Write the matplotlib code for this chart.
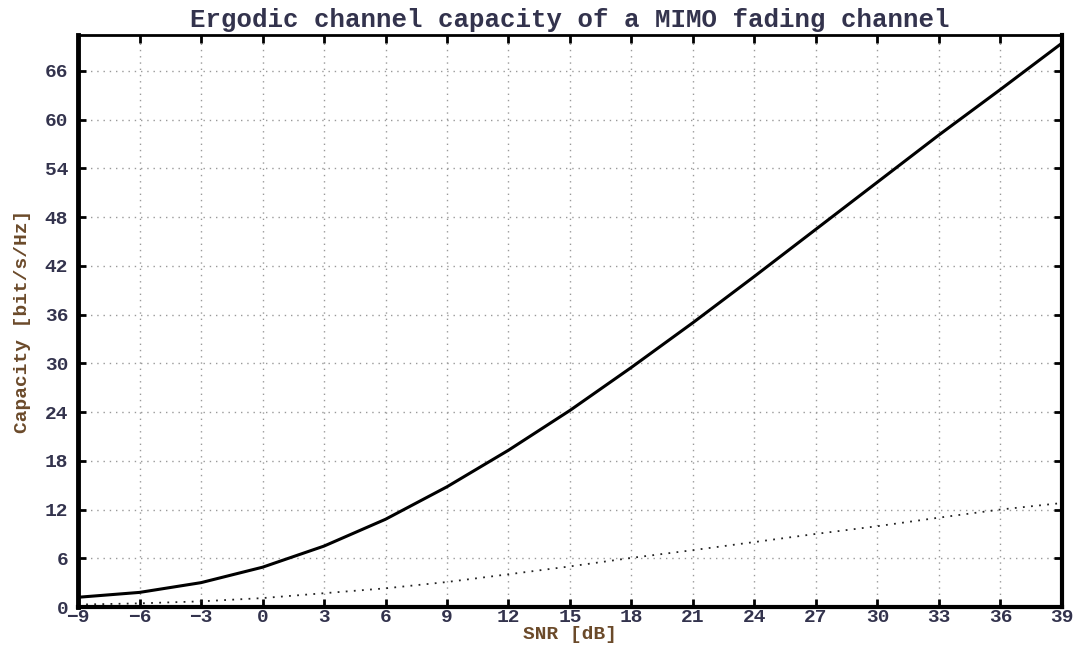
import matplotlib
matplotlib.use("Agg")
import matplotlib.pyplot as plt

snr_db = [-9, -6, -3, 0, 3, 6, 9, 12, 15, 18, 21, 24, 27, 30, 33, 36, 39]
cap_mimo = [1.2, 1.8, 3.0, 4.9, 7.5, 10.8, 14.8, 19.3, 24.2, 29.5, 35.0,
            40.7, 46.5, 52.3, 58.1, 63.7, 69.4]
cap_siso = [0.3, 0.45, 0.7, 1.1, 1.7, 2.3, 3.08, 4.03, 5.0, 6.05, 7.0,
            8.0, 9.0, 9.95, 11.0, 12.0, 12.8]
xticks = list(range(-9, 40, 3))
yticks = list(range(0, 67, 6))

title = "Ergodic channel capacity of a MIMO fading channel"
xlabel = "SNR [dB]"
ylabel = "Capacity [bit/s/Hz]"

mono = ["Liberation Mono", "DejaVu Sans Mono"]
text_col = "#33334d"
label_col = "#6b4a2a"

fig = plt.figure(figsize=(10.82, 6.53), dpi=100)
ax = fig.add_axes([0.0721, 0.0704, 0.9094, 0.8760])

ax.plot(snr_db, cap_mimo, color="black", lw=2.2, solid_joinstyle="round")
ax.plot(snr_db, cap_siso, color="#222222", lw=1.3, linestyle=(0, (1, 3.5)))

ax.set_xlim(-9, 39)
ax.set_ylim(0, 70.4)
ax.set_xticks(xticks)
ax.set_yticks(yticks)
ax.grid(True, color="#999999", linestyle=(0, (1, 3.5)), linewidth=1.0)

ax.tick_params(direction="in", top=True, right=True, length=6, width=2,
               colors="black", labelcolor=text_col, labelsize=14)
ax.tick_params(axis="x", pad=1.5)
ax.tick_params(axis="y", pad=7)
for lab in ax.get_xticklabels() + ax.get_yticklabels():
    lab.set_family(mono)
    lab.set_fontweight("bold")

for side, lw in [("left", 3.5), ("bottom", 3.0), ("right", 3.0), ("top", 2.0)]:
    ax.spines[side].set_linewidth(lw)
    ax.spines[side].set_color("black")

ax.set_title(title, family=mono, fontsize=18.5, fontweight="bold",
             color=text_col, pad=6)
ax.set_xlabel(xlabel, family=mono, fontsize=14, fontweight="bold",
              color=label_col, labelpad=0)
ax.set_ylabel(ylabel, family=mono, fontsize=14, fontweight="bold",
              color=label_col, labelpad=10)

fig.savefig("out.png", dpi=100)
